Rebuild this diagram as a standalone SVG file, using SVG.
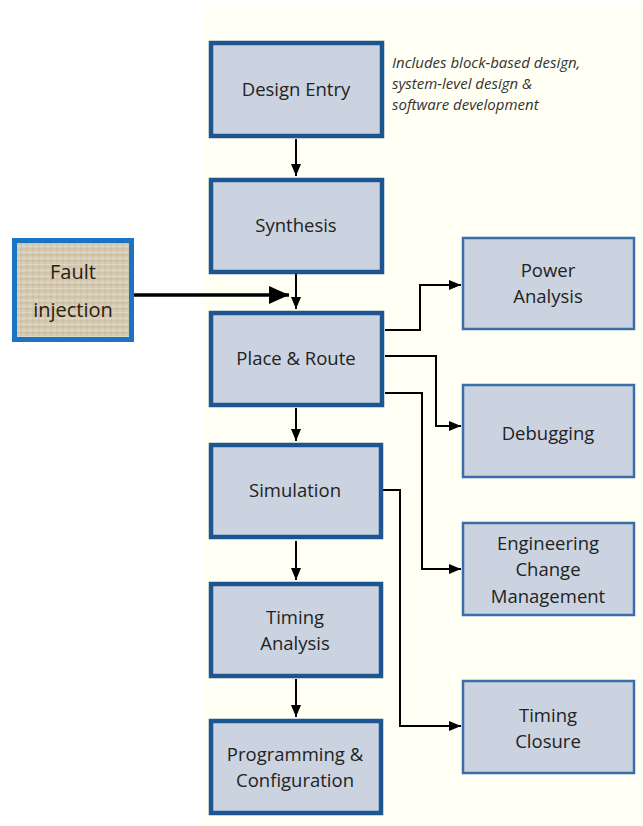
<svg xmlns="http://www.w3.org/2000/svg" width="643" height="826" viewBox="0 0 643 826">
<style>
.main{fill:#cbd3e1;stroke:#1d5591;stroke-width:4.5}
.side{fill:#cbd3e1;stroke:#3a6ea8;stroke-width:2.5}
.t{font-family:"Open Sans","Liberation Sans",sans-serif;font-size:18.5px;fill:#222;text-anchor:middle}
.note{font-family:"Open Sans","Liberation Sans",sans-serif;font-size:15px;font-style:italic;fill:#333}
.c{fill:none;stroke:#000;stroke-width:2;marker-end:url(#ah)}
</style>
<defs>
<marker id="ah" markerWidth="12" markerHeight="10" refX="12" refY="5" orient="auto" markerUnits="userSpaceOnUse">
<path d="M0,0 L12,5 L0,10 Z" fill="#000"/>
</marker>
<marker id="big" markerWidth="20" markerHeight="18" refX="20" refY="9" orient="auto" markerUnits="userSpaceOnUse">
<path d="M0,0 L20,9 L0,18 Z" fill="#000"/>
</marker>
<pattern id="canvas" width="6" height="6" patternUnits="userSpaceOnUse">
<rect width="6" height="6" fill="#d8cdb6"/>
<path d="M0,3 H6 M3,0 V6" stroke="#c4b89e" stroke-width="0.8"/>
<path d="M0,0.5 H6" stroke="#e6dcc8" stroke-width="0.6"/>
</pattern>
</defs>
<rect x="0" y="0" width="643" height="826" fill="#fff"/>
<rect x="203" y="8" width="440" height="815" fill="#fffff3"/>

<g id="connectors">
<path class="c" d="M296,139 V176"/>
<path class="c" d="M296,274 V309"/>
<path d="M133,295 H289" fill="none" stroke="#000" stroke-width="3.5" marker-end="url(#big)"/>
<path class="c" d="M296,408 V441"/>
<path class="c" d="M296,541 V580"/>
<path class="c" d="M296,679 V717"/>
<path class="c" d="M385,330 H420 V285 H461"/>
<path class="c" d="M385,356 H436 V426 H461"/>
<path class="c" d="M385,393 H422 V569 H461"/>
<path class="c" d="M383,490 H400 V726 H461"/>
</g>

<g id="design-entry">
<rect class="main" x="211" y="43" width="171" height="93"/>
<text class="t" x="296" y="96">Design Entry</text>
</g>
<g id="note">
<text class="note" x="392" y="68">Includes block-based design,</text>
<text class="note" x="392" y="89">system-level design &amp;</text>
<text class="note" x="392" y="110">software development</text>
</g>
<g id="synthesis">
<rect class="main" x="211" y="180" width="171" height="92"/>
<text class="t" x="296" y="232">Synthesis</text>
</g>
<g id="fault-injection">
<rect x="14.5" y="240.5" width="117" height="99" fill="url(#canvas)" stroke="#1a74c4" stroke-width="5"/>
<text class="t" x="73" y="279" style="font-size:20px;fill:#2a2010">Fault</text>
<text class="t" x="73" y="317" style="font-size:20px;fill:#2a2010">injection</text>
</g>
<g id="place-route">
<rect class="main" x="211" y="313" width="171" height="92"/>
<text class="t" x="296" y="365">Place &amp; Route</text>
</g>
<g id="simulation">
<rect class="main" x="211" y="445" width="170" height="92"/>
<text class="t" x="295" y="497">Simulation</text>
</g>
<g id="timing-analysis">
<rect class="main" x="211" y="584" width="170" height="92"/>
<text class="t" x="295" y="624">Timing</text>
<text class="t" x="295" y="650">Analysis</text>
</g>
<g id="programming">
<rect class="main" x="211" y="721" width="170" height="92"/>
<text class="t" x="295" y="761">Programming &amp;</text>
<text class="t" x="295" y="787">Configuration</text>
</g>
<g id="power-analysis">
<rect class="side" x="463" y="238" width="171" height="91"/>
<text class="t" x="548" y="277">Power</text>
<text class="t" x="548" y="303">Analysis</text>
</g>
<g id="debugging">
<rect class="side" x="463" y="385" width="171" height="92"/>
<text class="t" x="548" y="440">Debugging</text>
</g>
<g id="ecm">
<rect class="side" x="463" y="523" width="171" height="92"/>
<text class="t" x="548" y="550">Engineering</text>
<text class="t" x="548" y="576">Change</text>
<text class="t" x="548" y="603">Management</text>
</g>
<g id="timing-closure">
<rect class="side" x="463" y="681" width="171" height="92"/>
<text class="t" x="548" y="722">Timing</text>
<text class="t" x="548" y="748">Closure</text>
</g>
</svg>
